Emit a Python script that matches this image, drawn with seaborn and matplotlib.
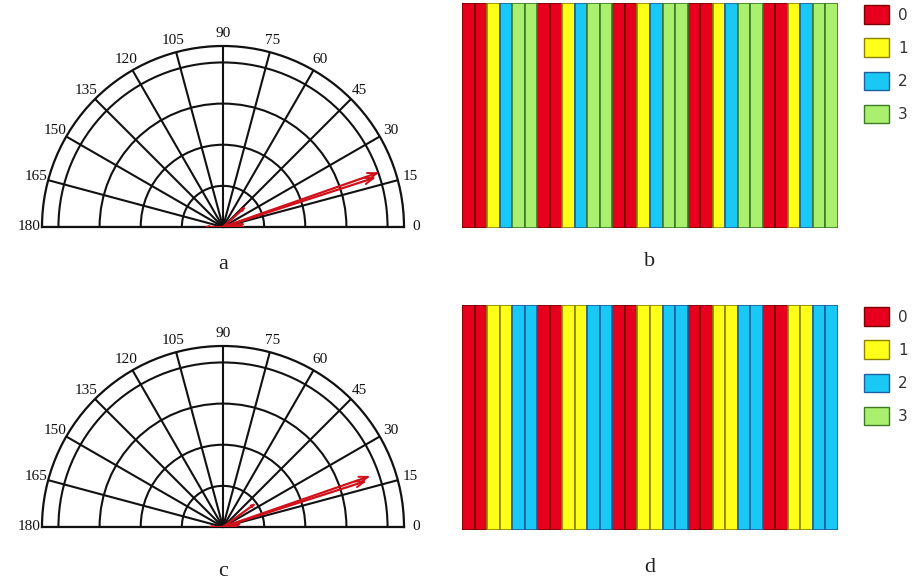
import numpy as np
import pandas as pd
import matplotlib
matplotlib.use("Agg")
import matplotlib.pyplot as plt
import matplotlib.colors as mcolors
from matplotlib.patches import Patch
import seaborn as sns

# ---------------- data ----------------
categories = [0, 1, 2, 3]
cat_colors = ["#E6001E", "#FFFF19", "#19C8F5", "#AAF06E"]
cat_edges = ["#7A0000", "#8C8200", "#1E5FA0", "#3C7A28"]

# stripe sequences (30 stripes each)
stripes_b = [0, 0, 1, 2, 3, 3] * 5
stripes_d = [0, 0, 1, 1, 2, 2] * 5

theta_ticks = list(range(0, 181, 15))
r_rings = [0.25, 0.5, 0.75, 1.0]
r_outer = 1.1

# compass vectors (angle in degrees, length)
vec_a_angle = [19.3, 18.0, 42.0, 8.0, 0.0, 180.0]
vec_a_len = [0.99, 0.96, 0.17, 0.12, 0.12, 0.10]
vec_c_angle = [19.1, 17.8, 36.0, 10.0, 0.0, 180.0]
vec_c_len = [0.93, 0.90, 0.23, 0.10, 0.08, 0.08]

panel_labels = ["a", "b", "c", "d"]

# ---------------- figure ----------------
sns.set_theme(style="white")
plt.rcParams["font.family"] = ["Liberation Serif", "DejaVu Serif"]

W, H = 916, 585
fig = plt.figure(figsize=(W / 100, H / 100), dpi=100)
fig.patch.set_facecolor("white")


def frac(x0, y_top, w, h):
    return [x0 / W, 1 - (y_top + h) / H, w / W, h / H]


RED = "#D0101A"


def polar_panel(cx, cy_origin, radius, angles, lens):
    # half-wedge is centred inside a square box of side 2*radius
    wedge_mid = cy_origin - radius / 2
    rect = frac(cx - radius, wedge_mid - radius, 2 * radius, 2 * radius)
    ax = fig.add_axes(rect, projection="polar")
    ax.set_thetamin(0)
    ax.set_thetamax(180)
    ax.set_ylim(0, r_outer)
    ax.set_rticks(r_rings)
    ax.set_yticklabels([])
    ax.set_xticks(np.deg2rad(theta_ticks))
    ax.set_xticklabels([str(t) for t in theta_ticks], fontsize=11)
    ax.tick_params(axis="x", pad=-4, colors="#111111")
    ax.grid(True, color="#111111", linewidth=1.5)
    for s in ax.spines.values():
        s.set_color("#111111")
        s.set_linewidth(1.6)
    ax.set_facecolor("white")
    for ang, ln in zip(angles, lens):
        th = np.deg2rad(ang)
        ax.plot([th, th], [0, ln], color=RED, linewidth=1.6, zorder=5)
        head = 0.06 * max(ln, 0.3)
        for side in (-1, 1):
            tip = np.array([ln * np.cos(th), ln * np.sin(th)])
            back = tip - head * np.array([np.cos(th + side * 0.35), np.sin(th + side * 0.35)])
            rb = np.hypot(*back)
            tb = np.arctan2(back[1], back[0])
            ax.plot([th, tb], [ln, rb], color=RED, linewidth=1.4, zorder=5)
    return ax


def stripe_panel(rect, seq):
    ax = fig.add_axes(rect)
    df = pd.DataFrame({"pos": np.arange(len(seq)), "h": np.ones(len(seq)),
                       "cat": [str(c) for c in seq]})
    pal = {str(c): col for c, col in zip(categories, cat_colors)}
    sns.barplot(data=df, x="pos", y="h", hue="cat", palette=pal, dodge=False,
                width=1.0, legend=False, ax=ax, native_scale=True,
                saturation=1, linewidth=1.2)
    edge_map = {mcolors.to_hex(c): e for c, e in zip(cat_colors, cat_edges)}
    for p in ax.patches:
        fc = mcolors.to_hex(p.get_facecolor()[:3])
        p.set_edgecolor(edge_map.get(fc, "#333333"))
        p.set_linewidth(1.2)
    ax.set_xlim(-0.5, len(seq) - 0.5)
    ax.set_ylim(0, 1)
    ax.set_xticks([])
    ax.set_yticks([])
    ax.set_xlabel("")
    ax.set_ylabel("")
    for s in ax.spines.values():
        s.set_visible(False)
    handles = [Patch(facecolor=c, edgecolor=e, linewidth=1.0)
               for c, e in zip(cat_colors, cat_edges)]
    leg = ax.legend(handles, [str(c) for c in categories], loc="upper left",
                    bbox_to_anchor=(1.07, 0.99), frameon=False,
                    handlelength=1.6, handleheight=1.5, labelspacing=0.95,
                    handletextpad=0.6, prop={"family": "DejaVu Sans", "size": 11},
                    borderaxespad=0.0, borderpad=0.0)
    for t in leg.get_texts():
        t.set_color("#333333")
    return ax


polar_panel(223, 227, 181, vec_a_angle, vec_a_len)
polar_panel(223, 527, 181, vec_c_angle, vec_c_len)
stripe_panel(frac(462, 3, 376, 225), stripes_b)
stripe_panel(frac(462, 305, 376, 225), stripes_d)

label_pos = [(223, 265), (650, 262), (223, 572), (650, 568)]
for lab, (x, y) in zip(panel_labels, label_pos):
    fig.text(x / W, 1 - y / H, lab, ha="center", va="center", fontsize=16,
             color="#222222")

fig.savefig("out.png", dpi=100, facecolor="white")
